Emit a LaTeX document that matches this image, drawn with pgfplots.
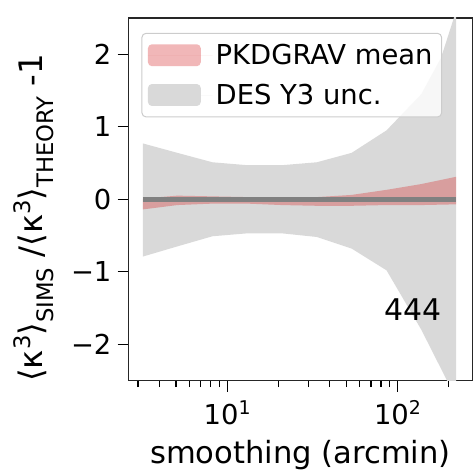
\documentclass[border=0pt]{standalone}
\usepackage{pgfplots}
\pgfplotsset{compat=1.18}
\usepackage{fontspec}
\setmainfont{DejaVu Sans}
\definecolor{bandgray}{RGB}{217,217,217}
\definecolor{mplred}{RGB}{214,39,40}
\definecolor{linegray}{RGB}{128,128,128}
\definecolor{legedge}{RGB}{204,204,204}
\newcommand\mytl{\fontsize{27.5bp}{30bp}\selectfont}
\newcommand\mylb{\fontsize{30bp}{34bp}\selectfont}
\newcommand\myxl{\fontsize{30.7bp}{34bp}\selectfont}
\newcommand\myyl{\fontsize{32.5bp}{36bp}\selectfont}
\newcommand\mylg{\fontsize{27.5bp}{30bp}\selectfont}
\newcommand\mysps[1]{\raisebox{12bp}{\fontsize{22.8bp}{23bp}\selectfont #1}}
\newcommand\mysbs[1]{\raisebox{-11bp}{\fontsize{22.8bp}{23bp}\selectfont #1}}
\newcommand\mytsp[1]{\raisebox{10bp}{\fontsize{19bp}{19bp}\selectfont #1}}
\begin{document}
\begin{tikzpicture}
\begin{axis}[
  scale only axis, width=345bp, height=364bp,
  xmode=log, xmin=2.637, xmax=274.6, ymin=-2.5, ymax=2.5,
  axis line style={line width=1.5bp, black!85},
  xtick={10,100}, xticklabels={10\mytsp{1},10\mytsp{2}},
  minor xtick={3,4,5,6,7,8,9,20,30,40,50,60,70,80,90,200},
  ytick={-2,-1,0,1,2}, yticklabels={−2,−1,0,1,2},
  tick align=outside, xtick pos=bottom, ytick pos=left,
  major tick length=11bp, minor tick length=6.5bp,
  tick style={black, line width=1.3bp},
  ticklabel style={font=\mytl},
  xticklabel style={anchor=base, inner sep=0bp, yshift=-33bp},
  yticklabel style={anchor=east, inner sep=0bp, xshift=-6bp},
  reverse legend,
  legend cell align=left,
  legend image code/.code={\fill[#1] (0bp,-11bp) rectangle (53bp,11bp);
     \path (0bp,0bp) -- (65bp,0bp);},
  legend style={at={(0.0377,0.9588)}, anchor=north west, draw=legedge,
    line width=1bp, rounded corners=4bp, fill=white, fill opacity=0.8,
    text opacity=1, font=\mylg, inner xsep=6bp, inner ysep=8bp,
    row sep=12bp, nodes={inner sep=3bp}},
]
\addplot[fill=bandgray, fill opacity=1, draw=none] coordinates {
 (3.2,0.77) (5.1,0.64) (8.2,0.51) (13.1,0.47) (21,0.47) (33.6,0.51)
 (53.8,0.64) (86.2,0.95) (138,1.45) (180,1.95) (221,2.6)
 (221,-2.75) (138,-1.8) (86.2,-0.98) (53.8,-0.68) (33.6,-0.52) (21,-0.47)
 (13.1,-0.47) (8.2,-0.51) (5.1,-0.65) (3.2,-0.79)} -- cycle;
\addlegendentry{DES Y3 unc.}
\addplot[fill=mplred, fill opacity=0.33, draw=none] coordinates {
 (3.2,0.01) (5.1,0.05) (8.2,0.04) (13.1,0.03) (21,0.03) (33.6,0.03)
 (53.8,0.06) (86.2,0.13) (138,0.21) (221,0.31)
 (221,-0.07) (138,-0.08) (86.2,-0.08) (53.8,-0.09) (33.6,-0.09) (21,-0.08)
 (13.1,-0.06) (8.2,-0.06) (5.1,-0.08) (3.2,-0.14)} -- cycle;
\addlegendentry{PKDGRAV mean}
\addplot[linegray, line width=4.5bp, forget plot] coordinates {(3.2,0) (221,0)};
\end{axis}
\node[anchor=base east, font=\mylb, inner sep=0bp] at (314bp,60bp) {444};
\node[anchor=base, font=\myxl, inner sep=0bp] at (172.5bp,-83bp) {smoothing (arcmin)};
\node[rotate=90, anchor=base, font=\myyl, inner sep=0bp] at (-86bp,163.5bp)
  {⟨κ\mysps{3}⟩\mysbs{SIMS} /⟨κ\mysps{3}⟩\mysbs{THEORY} -1};
\path[use as bounding box] (-129bp,-91bp) rectangle (344bp,382bp);
\end{tikzpicture}
\end{document}
